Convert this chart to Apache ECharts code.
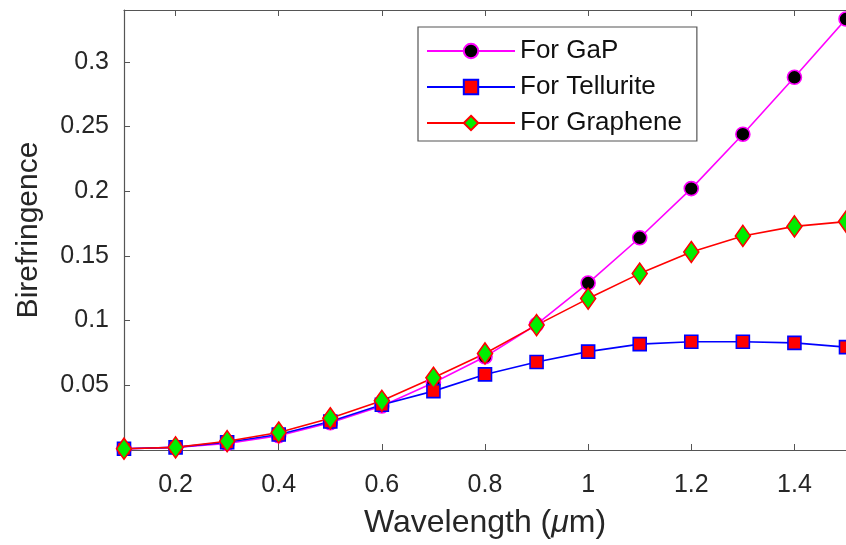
<!DOCTYPE html>
<html>
<head>
<meta charset="utf-8">
<script src="https://cdn.jsdelivr.net/npm/echarts@6/dist/echarts.min.js"></script>
<style>
  html, body { margin: 0; padding: 0; background: #fff; }
  #chart { width: 846px; height: 545px; }
</style>
</head>
<body>
<div id="chart"></div>
<script>
// Wavelength samples (µm)
const wavelength = [0.1, 0.2, 0.3, 0.4, 0.5, 0.6, 0.7, 0.8, 0.9, 1.0, 1.1, 1.2, 1.3, 1.4, 1.5];
// Birefringence for each material
const gapValues = [0.001, 0.002, 0.005, 0.011, 0.021, 0.034, 0.052, 0.072, 0.097, 0.129, 0.164, 0.202, 0.244, 0.288, 0.333];
const telluriteValues = [0.001, 0.002, 0.006, 0.012, 0.022, 0.035, 0.0455, 0.0584, 0.068, 0.076, 0.0818, 0.0836, 0.0836, 0.0828, 0.0795];
const grapheneValues = [0.001, 0.002, 0.0068, 0.0135, 0.0245, 0.038, 0.0558, 0.0746, 0.0965, 0.117, 0.1363, 0.153, 0.1654, 0.1728, 0.1765];
// Tick labels
const xTicks = [0.2, 0.4, 0.6, 0.8, 1.0, 1.2, 1.4];
const yTicks = [0.05, 0.1, 0.15, 0.2, 0.25, 0.3];
const seriesNames = ['For GaP', 'For Tellurite', 'For Graphene'];

const pairs = vals => wavelength.map((w, i) => [w, vals[i]]);
const FONT = 'Liberation Sans, Arial, sans-serif';
const AXIS_COLOR = '#555';
const TEXT_COLOR = '#262626';

const chart = echarts.init(document.getElementById('chart'), null, { renderer: 'canvas' });

const baseX = {
  type: 'value', min: 0.1, max: 1.5,
  axisLine: { show: true, onZero: false, lineStyle: { color: AXIS_COLOR, width: 1.2 } },
  splitLine: { show: false },
  axisTick: { show: true, inside: true, length: 6, customValues: xTicks, lineStyle: { color: AXIS_COLOR } }
};

chart.setOption({
  animation: false,
  backgroundColor: '#fff',
  grid: { left: 124, top: 10, width: 731, height: 440, containLabel: false },
  legend: {
    orient: 'vertical',
    left: 418, top: 27,
    data: seriesNames,
    itemWidth: 88, itemHeight: 18, itemGap: 10,
    padding: [11, 15, 5, 8],
    borderColor: '#555', borderWidth: 1.2,
    backgroundColor: '#fff',
    textStyle: { fontFamily: FONT, fontSize: 26, color: '#111' }
  },
  xAxis: [
    Object.assign({}, baseX, {
      position: 'bottom',
      axisLabel: { show: true, customValues: xTicks, margin: 23, fontFamily: FONT, fontSize: 25, color: TEXT_COLOR,
        formatter: v => String(+v.toFixed(1)) },
      name: 'Wavelength ({i|μ}m)', nameLocation: 'middle', nameGap: 57,
      nameTextStyle: { fontFamily: FONT, fontSize: 32, color: TEXT_COLOR,
        rich: { i: { fontFamily: FONT, fontSize: 32, fontStyle: 'italic', color: TEXT_COLOR } } }
    }),
    Object.assign({}, baseX, { position: 'top', axisLabel: { show: false } })
  ],
  yAxis: [{
    type: 'value', min: 0, max: 0.34,
    axisLine: { show: true, onZero: false, lineStyle: { color: AXIS_COLOR, width: 1.2 } },
    splitLine: { show: false },
    axisTick: { show: true, inside: true, length: 6, customValues: yTicks, lineStyle: { color: AXIS_COLOR } },
    axisLabel: { show: true, customValues: yTicks, margin: 15, fontFamily: FONT, fontSize: 25, color: TEXT_COLOR,
      formatter: v => String(+v.toFixed(2)) },
    name: 'Birefringence', nameLocation: 'middle', nameGap: 80, nameRotate: 90,
    nameTextStyle: { fontFamily: FONT, fontSize: 30, color: TEXT_COLOR }
  }],
  series: [
    {
      name: seriesNames[0], type: 'line', data: pairs(gapValues), clip: false,
      symbol: 'circle', symbolSize: 14,
      lineStyle: { color: '#ff00ff', width: 1.6 },
      itemStyle: { color: '#000', borderColor: '#ff00ff', borderWidth: 1.6 }
    },
    {
      name: seriesNames[1], type: 'line', data: pairs(telluriteValues), clip: false,
      symbol: 'rect', symbolSize: 13,
      lineStyle: { color: '#0000ff', width: 1.6 },
      itemStyle: { color: '#ff0000', borderColor: '#0000ff', borderWidth: 1.6 }
    },
    {
      name: seriesNames[2], type: 'line', data: pairs(grapheneValues), clip: false,
      symbol: 'diamond', symbolSize: [15, 21],
      lineStyle: { color: '#ff0000', width: 1.6 },
      itemStyle: { color: '#00ee00', borderColor: '#ff0000', borderWidth: 1.6 }
    }
  ]
});
</script>
</body>
</html>
